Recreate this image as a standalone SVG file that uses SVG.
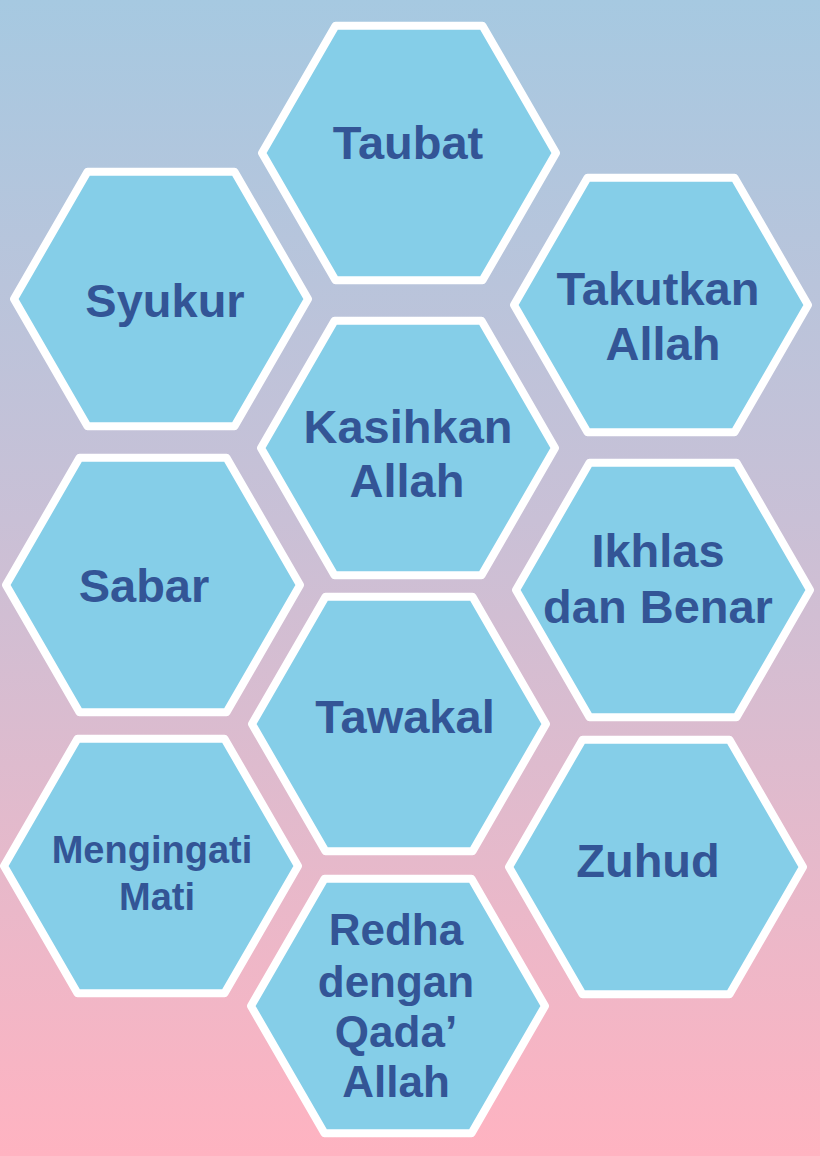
<svg xmlns="http://www.w3.org/2000/svg" xmlns:xlink="http://www.w3.org/1999/xlink" width="820" height="1156" viewBox="0 0 820 1156">
<defs>
<linearGradient id="bg" x1="0" y1="0" x2="0" y2="1">
<stop offset="0" stop-color="#a6c9e1"/>
<stop offset="0.45" stop-color="#c9c0d6"/>
<stop offset="1" stop-color="#ffb3c1"/>
</linearGradient>
<polygon id="hex" points="-147,0 -73.5,-127.3 73.5,-127.3 147,0 73.5,127.3 -73.5,127.3"/>
</defs>
<style>
.h{fill:#85cee8;stroke:#ffffff;stroke-width:8;stroke-linejoin:round}
.t{font-family:"Liberation Sans",Arial,sans-serif;font-weight:bold;fill:#335596;text-anchor:middle;font-size:47px}
.s{font-size:38px}
.m{font-size:44px}
</style>
<rect x="0" y="0" width="820" height="1156" fill="url(#bg)"/>
<g id="taubat"><use href="#hex" class="h" x="409" y="153"/><text class="t" x="408" y="159">Taubat</text></g>
<g id="syukur"><use href="#hex" class="h" x="161" y="299"/><text class="t" x="165" y="317">Syukur</text></g>
<g id="takutkan"><use href="#hex" class="h" x="661" y="305"/><text class="t" x="658" y="305">Takutkan</text><text class="t" x="663" y="360">Allah</text></g>
<g id="kasihkan"><use href="#hex" class="h" x="408" y="448"/><text class="t" x="408" y="443">Kasihkan</text><text class="t" x="407" y="497">Allah</text></g>
<g id="sabar"><use href="#hex" class="h" x="153" y="585"/><text class="t" x="144" y="602">Sabar</text></g>
<g id="ikhlas"><use href="#hex" class="h" x="663" y="590"/><text class="t" x="658" y="567">Ikhlas</text><text class="t" x="658" y="623">dan Benar</text></g>
<g id="tawakal"><use href="#hex" class="h" x="399" y="724"/><text class="t" x="405" y="733">Tawakal</text></g>
<g id="mengingati"><use href="#hex" class="h" x="151" y="866"/><text class="t s" x="152" y="863">Mengingati</text><text class="t s" x="157" y="910">Mati</text></g>
<g id="zuhud"><use href="#hex" class="h" x="656" y="867"/><text class="t" x="648" y="877">Zuhud</text></g>
<g id="redha"><use href="#hex" class="h" x="398" y="1006"/><text class="t m" x="396" y="945">Redha</text><text class="t m" x="396" y="997">dengan</text><text class="t m" x="396" y="1047">Qada’</text><text class="t m" x="396" y="1097">Allah</text></g>
<g id="connectors"></g>
</svg>
